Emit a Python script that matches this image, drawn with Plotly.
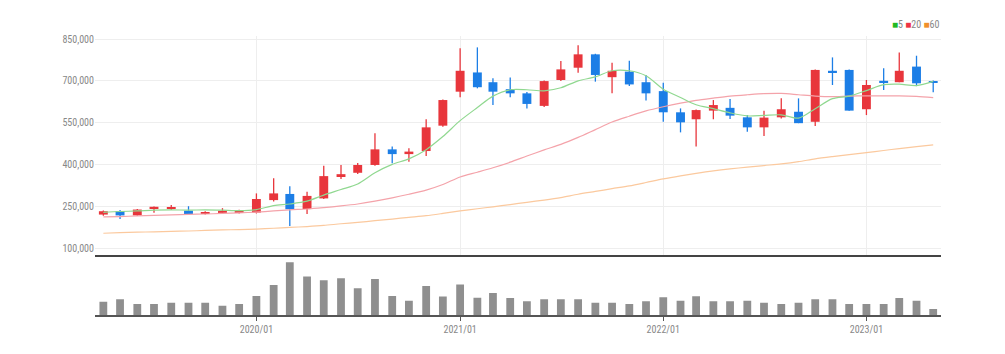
import plotly.graph_objects as go

# ---------------- data ----------------
months = ["2019-04", "2019-05", "2019-06", "2019-07", "2019-08", "2019-09", "2019-10", "2019-11", "2019-12",
          "2020-01", "2020-02", "2020-03", "2020-04", "2020-05", "2020-06", "2020-07", "2020-08", "2020-09",
          "2020-10", "2020-11", "2020-12", "2021-01", "2021-02", "2021-03", "2021-04", "2021-05", "2021-06",
          "2021-07", "2021-08", "2021-09", "2021-10", "2021-11", "2021-12", "2022-01", "2022-02", "2022-03",
          "2022-04", "2022-05", "2022-06", "2022-07", "2022-08", "2022-09", "2022-10", "2022-11", "2022-12",
          "2023-01", "2023-02", "2023-03", "2023-04", "2023-05"]

open_ = [220, 232, 217, 241, 240, 234, 223, 226, 229,
         227, 272, 294, 240, 278, 358, 370, 398, 454,
         437, 448, 539, 661, 730, 695, 670, 655, 610,
         703, 747, 795, 713, 733, 695, 663, 587, 562,
         593, 603, 569, 533, 569, 589, 553, 736, 739,
         598, 700, 695, 751, 699]
high = [235, 236, 240, 249, 254, 250, 232, 243, 237,
        296, 350, 322, 302, 395, 398, 405, 512, 464,
        458, 562, 633, 817, 820, 709, 712, 660, 701,
        771, 828, 797, 765, 772, 721, 693, 601, 597,
        631, 635, 577, 593, 637, 637, 741, 784, 741,
        703, 745, 802, 790, 701]
low = [216, 204, 215, 227, 236, 220, 220, 222, 224,
       224, 267, 179, 222, 276, 348, 366, 395, 404,
       410, 430, 535, 641, 673, 613, 641, 601, 606,
       699, 729, 697, 655, 681, 629, 553, 515, 464,
       562, 563, 517, 502, 565, 548, 538, 685, 593,
       577, 667, 695, 681, 659]
close = [232, 217, 238, 248, 247, 222, 229, 234, 234,
         276, 296, 239, 287, 358, 365, 398, 454, 437,
         446, 533, 631, 736, 677, 661, 655, 617, 699,
         741, 795, 721, 736, 687, 655, 587, 551, 595,
         613, 575, 533, 568, 598, 548, 739, 730, 593,
         685, 695, 736, 691, 695]

ma5 = [228, 231, 233, 236, 237, 236, 237, 236, 234,
       238, 252, 258, 268, 290, 310, 330, 370, 400,
       420, 453, 500, 557, 604, 645, 668, 668, 664,
       675, 700, 714, 736, 736, 718, 670, 640, 614,
       600, 585, 574, 576, 578, 566, 600, 636, 645,
       665, 686, 688, 683, 698]
ma20 = [212, 213, 215, 217, 219, 221, 222, 224, 226,
        229, 233, 237, 240, 245, 251, 258, 268, 280,
        293, 308, 328, 355, 372, 388, 408, 430, 452,
        472, 497, 525, 552, 573, 592, 607, 620, 630,
        638, 645, 650, 654, 655, 650, 645, 643, 645,
        646, 646, 646, 644, 640]
ma60 = [153, 155, 157, 158, 160, 161, 163, 165, 166,
        168, 171, 174, 177, 181, 187, 192, 198, 204,
        210, 216, 224, 233, 241, 248, 256, 264, 272,
        281, 293, 303, 313, 323, 335, 348, 359, 368,
        377, 384, 390, 396, 402, 410, 420, 428, 435,
        442, 450, 457, 464, 470]

volume = [40, 47, 33, 33, 37, 37, 37, 28, 33,
          57, 90, 158, 115, 104, 110, 80, 108, 57,
          43, 87, 55, 91, 52, 66, 51, 41, 47,
          47, 47, 37, 37, 33, 41, 53, 43, 56,
          41, 41, 43, 37, 33, 37, 47, 47, 33,
          33, 33, 51, 43, 18]

price_ticks = [100000, 250000, 400000, 550000, 700000, 850000]
legend_labels = ["5", "20", "60"]

# ---------------- styles ----------------
UP = "#e8363c"
DOWN = "#1c7ee6"
MA_COLORS = ["#90d890", "#f4a3aa", "#fbc99e"]
LEG_COLORS = ["#22b922", "#ee3344", "#f0902c"]
FONT = "Liberation Sans Narrow, Arial Narrow, Roboto Condensed, sans-serif"
DAY = 86400000

x = [m + "-01" for m in months]
k = 1000

fig = go.Figure()

# candles: wicks + bodies
for color, is_up in ((UP, True), (DOWN, False)):
    wx, wy = [], []
    bx, bb, bh = [], [], []
    for xi, o, h, l, c in zip(x, open_, high, low, close):
        if (c >= o) == is_up:
            wx += [xi, xi, None]
            wy += [l * k, h * k, None]
            bx.append(xi)
            bb.append(min(o, c) * k)
            bh.append(max(abs(c - o), 1.5) * k)
    fig.add_trace(go.Scatter(x=wx, y=wy, mode="lines", line=dict(color=color, width=1.3),
                             xaxis="x2", yaxis="y", showlegend=False, hoverinfo="skip"))
    fig.add_trace(go.Bar(x=bx, y=bh, base=bb, width=16 * DAY, marker=dict(color=color, line=dict(width=0)),
                         xaxis="x2", yaxis="y", showlegend=False))

# moving averages
for vals, col in zip((ma60, ma20, ma5), (MA_COLORS[2], MA_COLORS[1], MA_COLORS[0])):
    fig.add_trace(go.Scatter(x=x, y=[v * k for v in vals], mode="lines",
                             line=dict(color=col, width=1.2, shape="spline", smoothing=0.8),
                             xaxis="x2", yaxis="y", showlegend=False))

# volume
fig.add_trace(go.Bar(x=x, y=volume, width=14 * DAY, marker=dict(color="#8f8f8f", line=dict(width=0)),
                     xaxis="x", yaxis="y2", showlegend=False))

xr = ["2019-03-17", "2023-05-15"]

fig.update_layout(
    width=1005, height=354,
    margin=dict(l=95, r=64, t=36, b=39),
    paper_bgcolor="white", plot_bgcolor="white",
    barmode="overlay",
    font=dict(family=FONT, size=10, color="#888888"),
    xaxis=dict(type="date", range=xr, domain=[0, 1], anchor="y2",
               tickformat="%Y/%m", dtick="M12", tick0="2020-01-01",
               ticks="outside", ticklen=4, tickcolor="#555555",
               showline=True, linecolor="#555555", linewidth=2,
               showgrid=False, zeroline=False,
               tickfont=dict(family=FONT, size=10, color="#888888")),
    xaxis2=dict(type="date", range=xr, domain=[0, 1], anchor="y", matches="x",
                dtick="M12", tick0="2020-01-01", showticklabels=False,
                showline=True, linecolor="#444444", linewidth=2,
                showgrid=True, gridcolor="#eeeeee", gridwidth=1, zeroline=False),
    yaxis=dict(domain=[0.2151, 1], range=[75000, 860800], tickvals=price_ticks,
               tickformat=",d", showgrid=True, gridcolor="#eeeeee", zeroline=False,
               showline=False, ticks="", tickfont=dict(family=FONT, size=10, color="#888888")),
    yaxis2=dict(domain=[0, 0.2], range=[0, 167], visible=False, showgrid=False),
    annotations=[dict(
        xref="paper", yref="paper", x=1.0, y=1.04, xanchor="right", yanchor="middle",
        showarrow=False, font=dict(family=FONT, size=10, color="#888888"),
        text=" ".join(f'<span style="color:{c}">■</span>{t}' for c, t in zip(LEG_COLORS, legend_labels)),
    )],
)

fig.write_html("out.html")
